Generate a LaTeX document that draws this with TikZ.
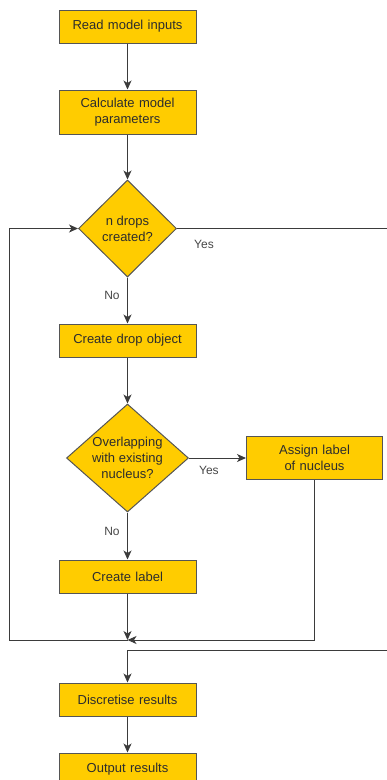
\documentclass[tikz,border=0pt]{standalone}
\usepackage{fontspec}
\setmainfont{Liberation Sans}
\usepackage{tikz}
\usetikzlibrary{arrows.meta, positioning, shapes.geometric, calc}
\usepackage{xcolor}
\definecolor{stepyellow}{RGB}{255, 204, 0}
\definecolor{stepborder}{RGB}{85, 85, 85}
\definecolor{steptext}{RGB}{45, 45, 45}
\definecolor{labeltext}{RGB}{70, 70, 70}
\begin{document}
\begin{tikzpicture}[
  x=1pt, y=-1pt,
  node distance=46pt and 57pt,
  pbox/.style={rectangle, draw=stepborder, line width=1pt, fill=stepyellow,
               minimum width=137pt, minimum height=#1, inner sep=0pt,
               text centered, text width=130pt, text=steptext,
               font=\fontsize{13}{16.5}\selectfont},
  pbox/.default=33pt,
  dbox/.style={diamond, draw=stepborder, line width=1pt, fill=stepyellow,
               inner sep=0pt, align=center, text=steptext,
               font=\fontsize{13}{16}\selectfont},
  arr/.style={-{Stealth[length=9pt, width=8pt, inset=2.5pt]}, line width=1pt, stepborder!70!black},
  lbl/.style={font=\fontsize{12}{14}\selectfont, text=labeltext}
]
\useasboundingbox (0,0) rectangle (387,780);
\node[pbox] (read) at (127.5,26.5) {Read model inputs};
\node[pbox=44pt, below=of read] (calc) {Calculate model\\parameters};
\node[dbox, minimum width=98pt, minimum height=97pt, below=45pt of calc] (done) {n drops\\created?};
\node[pbox, below=of done] (drop) {Create drop object};
\node[dbox, minimum width=122pt, minimum height=108pt, aspect=1.13, below=of drop] (overlap)
  {Overlapping\\with existing\\nucleus?};
\node[pbox=43pt, right=of overlap, minimum width=136pt] (assign) {Assign label\\of nucleus};
\node[pbox, below=47pt of overlap] (create) {Create label};
\node[pbox, below=89pt of create] (disc) {Discretise results};
\node[pbox, below=36pt of disc] (out) {Output results};
\coordinate (join) at (create.south |- 0,640);
\coordinate (rim) at (389,650);
\draw[arr] (read)    -- (calc);
\draw[arr] (calc)    -- (done);
\draw[arr] (done)    -- (drop) node[lbl, pos=0.4, left=4pt]{No};
\draw[arr] (drop)    -- (overlap);
\draw[arr] (overlap) -- (assign) node[lbl, pos=0.35, below=4pt]{Yes};
\draw[arr] (overlap) -- (create) node[lbl, pos=0.4, left=4pt]{No};
\draw[arr] (create)  -- (join);
\draw[arr] (assign)  |- (join);
\draw[arr] (join) -- ++(-118.5,0) |- (done.west);
\draw[arr] (done.east) -| (rim) -| (disc.north);
\node[lbl] at ($(done.east)+(27,16)$) {Yes};
\draw[arr] (disc)    -- (out);
\end{tikzpicture}
\end{document}
